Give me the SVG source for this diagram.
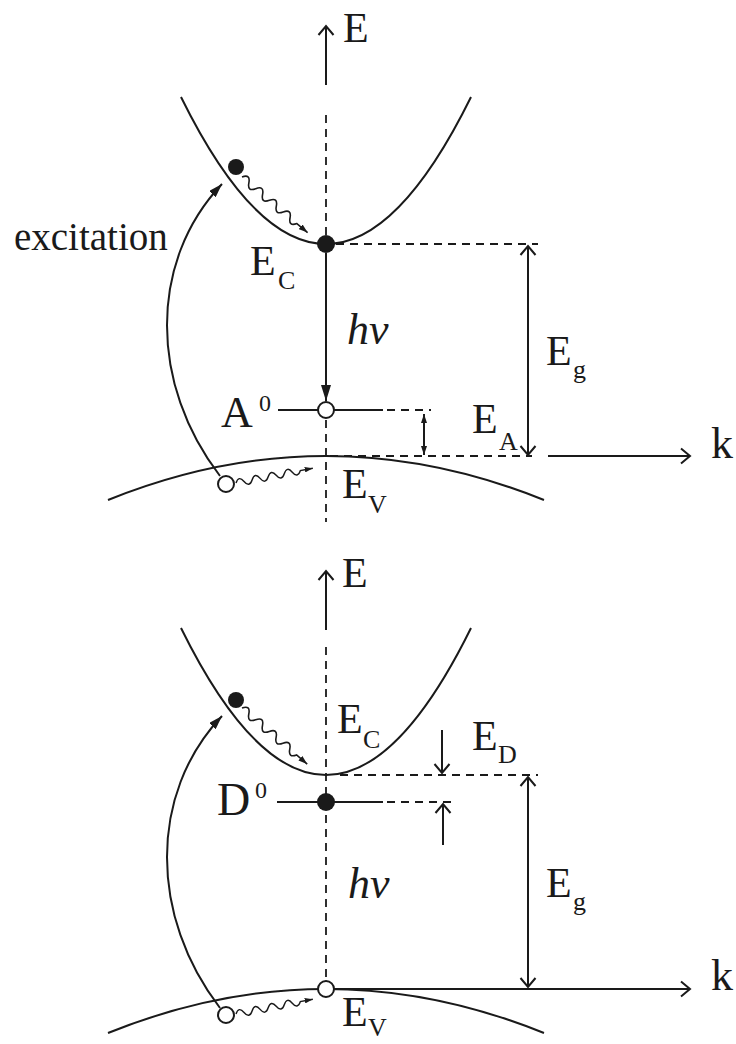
<svg xmlns="http://www.w3.org/2000/svg" width="736" height="1044" viewBox="0 0 736 1044">
<style>
.ln{stroke:#1a1a1a;stroke-width:2;fill:none}
.ds{stroke:#1a1a1a;stroke-width:1.8;fill:none;stroke-dasharray:8 6}
.wv{stroke:#1a1a1a;stroke-width:1.6;fill:none}
.t{font-family:"Liberation Serif","Times New Roman",serif;fill:#1a1a1a;font-size:42px}
.s{font-size:26px}
.sup{font-size:24px}
.it{font-style:italic;font-size:44px}
.dot{fill:#1a1a1a}
.hole{fill:#fff;stroke:#1a1a1a;stroke-width:2}
</style>
<defs>
<marker id="oa" viewBox="0 0 10 16" refX="9" refY="8" markerWidth="10" markerHeight="16" markerUnits="userSpaceOnUse" orient="auto-start-reverse" overflow="visible">
<path d="M0,0.5 L9,8 L0,15.5" fill="none" stroke="#1a1a1a" stroke-width="2"/>
</marker>
<marker id="fb" viewBox="0 0 16 10" refX="16" refY="5" markerWidth="16" markerHeight="10" markerUnits="userSpaceOnUse" orient="auto">
<path d="M0,0 L16,5 L0,10 z" fill="#1a1a1a"/>
</marker>
<marker id="fm" viewBox="0 0 14 9" refX="14" refY="4.5" markerWidth="14" markerHeight="9" markerUnits="userSpaceOnUse" orient="auto">
<path d="M0,0 L14,4.5 L0,9 z" fill="#1a1a1a"/>
</marker>
<marker id="fs" viewBox="0 0 9 6" refX="9" refY="3" markerWidth="9" markerHeight="6" markerUnits="userSpaceOnUse" orient="auto-start-reverse">
<path d="M0,0 L9,3 L0,6 z" fill="#1a1a1a"/>
</marker>
<path id="wave87" d="M0,0 q4.5,-8 9,0 t9,0 t9,0 t9,0 t9,0 t9,0 t9,0 t9,0 l14,0"/>
</defs>

<g id="top-bands">
<path class="ln" d="M181,97 Q326,391 471,97"/>
<path class="ln" d="M108,500 Q326,412 544,500"/>
</g>

<g id="connectors">
<line class="ln" x1="326" y1="85" x2="326" y2="26" marker-end="url(#oa)"/>
<line class="ds" x1="326" y1="115" x2="326" y2="236"/>
<line class="ds" x1="336" y1="244" x2="538" y2="244"/>
<line class="ln" x1="326" y1="253" x2="326" y2="401" marker-end="url(#fb)"/>
<line class="ln" x1="278" y1="410" x2="318" y2="410"/>
<line class="ln" x1="334" y1="410" x2="383" y2="410"/>
<line class="ds" x1="387" y1="410" x2="431" y2="410"/>
<line class="ds" x1="326" y1="420" x2="326" y2="522"/>
<line class="ds" x1="330" y1="456" x2="532" y2="456"/>
<line class="ln" stroke-width="1.8" x1="424" y1="414" x2="424" y2="455" marker-start="url(#fs)" marker-end="url(#fs)"/>
<line class="ln" x1="528" y1="246" x2="528" y2="455" marker-start="url(#oa)" marker-end="url(#oa)"/>
<line class="ln" x1="548" y1="456" x2="690" y2="456" marker-end="url(#oa)"/>
<path class="ln" d="M220,476 C150,385 148,262 222,184" marker-end="url(#fm)"/>
<use href="#wave87" class="wv" transform="translate(242,177) rotate(40.3)" marker-end="url(#fs)"/>
<use href="#wave87" class="wv" transform="translate(236,483) rotate(-10.9) scale(0.91)" marker-end="url(#fs)"/>
<line class="ln" x1="326" y1="630" x2="326" y2="571" marker-end="url(#oa)"/>
<line class="ds" x1="326" y1="647" x2="326" y2="980"/>
<line class="ds" x1="340" y1="775" x2="538" y2="775"/>
<line class="ln" x1="442" y1="730" x2="442" y2="773" marker-end="url(#oa)"/>
<line class="ln" x1="443" y1="845" x2="443" y2="804" marker-end="url(#oa)"/>
<line class="ln" x1="277" y1="802" x2="383" y2="802"/>
<line class="ds" x1="387" y1="802" x2="453" y2="802"/>
<line class="ln" x1="528" y1="777" x2="528" y2="987" marker-start="url(#oa)" marker-end="url(#oa)"/>
<line class="ln" x1="334" y1="989" x2="690" y2="989" marker-end="url(#oa)"/>
<path class="ln" d="M220,1008 C150,917 148,794 222,716" marker-end="url(#fm)"/>
<use href="#wave87" class="wv" transform="translate(242,708) rotate(40.7)" marker-end="url(#fs)"/>
<use href="#wave87" class="wv" transform="translate(236,1014) rotate(-10.9) scale(0.91)" marker-end="url(#fs)"/>
</g>

<g id="bottom-bands">
<path class="ln" d="M181,628 Q326,922 471,628"/>
<path class="ln" d="M108,1033 Q326,945 544,1033"/>
</g>

<g id="particles">
<circle id="e-top" class="dot" cx="236" cy="167" r="8"/>
<circle id="ec-top" class="dot" cx="326" cy="244" r="9"/>
<circle id="a0-hole" class="hole" cx="326" cy="410" r="8"/>
<circle id="h-top" class="hole" cx="226" cy="484" r="8"/>
<circle id="e-bot" class="dot" cx="236" cy="700" r="8"/>
<circle id="d0-dot" class="dot" cx="326" cy="802" r="9"/>
<circle id="ev-bot" class="hole" cx="326" cy="989" r="8"/>
<circle id="h-bot" class="hole" cx="226" cy="1015" r="8"/>
</g>

<g id="labels-top">
<text class="t" x="343" y="42">E</text>
<text class="t" x="14" y="250" style="font-size:39px">excitation</text>
<text class="t" x="250" y="275">E</text><text class="t s" x="278" y="289">C</text>
<text class="t it" x="347" y="344">hν</text>
<text class="t" x="221" y="427" style="font-size:44px">A</text><text class="t sup" x="259" y="411">0</text>
<text class="t" x="546" y="365">E</text><text class="t s" x="573" y="378">g</text>
<text class="t" x="472" y="433">E</text><text class="t s" x="499" y="450">A</text>
<text class="t" x="711" y="458" style="font-size:44px">k</text>
<text class="t" x="342" y="498">E</text><text class="t s" x="368" y="513">V</text>
</g>

<g id="labels-bottom">
<text class="t" x="342" y="587">E</text>
<text class="t" x="337" y="733">E</text><text class="t s" x="363" y="748">C</text>
<text class="t" x="472" y="750">E</text><text class="t s" x="498" y="763">D</text>
<text class="t" x="217" y="815" style="font-size:46px">D</text><text class="t sup" x="255" y="798">0</text>
<text class="t it" x="348" y="898">hν</text>
<text class="t" x="546" y="897">E</text><text class="t s" x="573" y="910">g</text>
<text class="t" x="711" y="990" style="font-size:44px">k</text>
<text class="t" x="342" y="1026">E</text><text class="t s" x="368" y="1036">V</text>
</g>
</svg>
